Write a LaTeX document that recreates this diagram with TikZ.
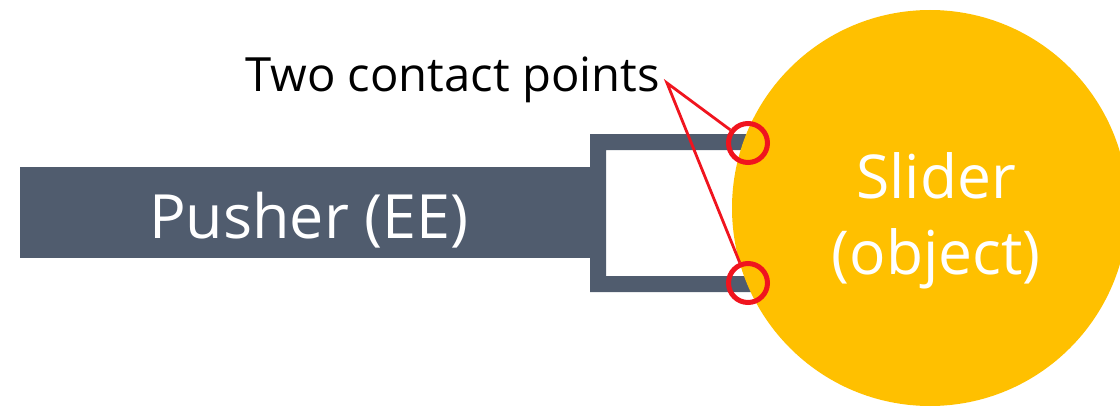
\documentclass[tikz,border=0pt]{standalone}
\usepackage{fontspec}
\setmainfont{Open Sans}
\definecolor{pushc}{HTML}{505C6E}
\definecolor{slidc}{HTML}{FFC000}
\definecolor{redc}{HTML}{F0141E}
\begin{document}
\begin{tikzpicture}[x=1pt,y=-1pt,
  pusherbox/.style={fill=pushc, inner sep=0pt},
  pushtext/.style={text=white, inner sep=0pt, font=\fontsize{61}{72}\selectfont},
  objcircle/.style={circle, fill=slidc, inner sep=0pt},
  objtext/.style={text=white, align=center, font=\fontsize{60.5}{76}\selectfont},
  contact/.style={circle, draw=redc, line width=5pt, minimum size=39pt, inner sep=0pt},
  pointer/.style={draw=redc, line width=2.8pt},
  lbl/.style={text=black, inner sep=0pt, font=\fontsize{47.2}{56}\selectfont}]
\useasboundingbox (0,0) rectangle (1120,412);
\node[pusherbox, minimum width=570pt, minimum height=91pt, anchor=north west] (pusher) at (20,167) {};
\node[pushtext, anchor=base] (pushlabel) at (309,238) {Pusher (EE)};
\fill[pushc, even odd rule] (590,134) rectangle (785,292) (606,150) rectangle (785,276);
\node[objcircle, minimum size=396pt] (slider) at (930,208) {};
\node[objtext] (slidertext) at (936,220.5) {Slider\\(object)};
\node[contact] (cp1) at (748,143) {};
\node[contact] (cp2) at (748,283) {};
\node[lbl, anchor=base west] (label) at (245,92) {Two contact points};
\coordinate (apex) at (667,83);
\draw[pointer] (cp1) -- (apex) -- (cp2);
\end{tikzpicture}
\end{document}
